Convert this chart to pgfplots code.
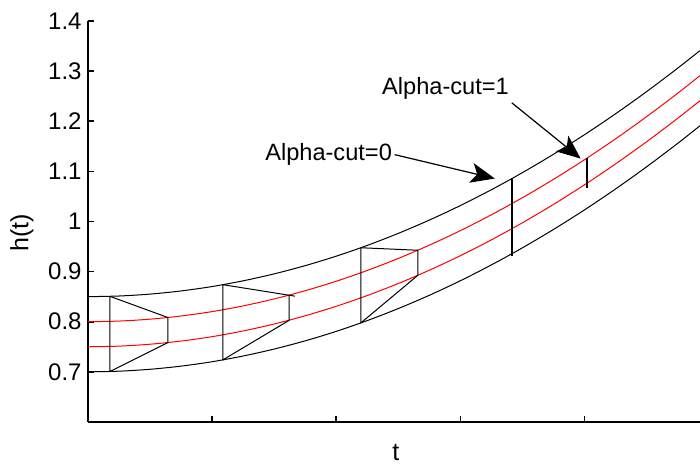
\documentclass[border=0pt]{standalone}
\usepackage{fontspec}
\setmainfont{Liberation Sans}
\usepackage{pgfplots}
\usepackage{pgfplotstable}
\pgfplotsset{compat=1.18}
\usetikzlibrary{arrows.meta,calc}

\pgfplotstableread{
t    lb     lr     ur     ub
0    0.7000 0.7500 0.8000 0.8500
0.25 0.7013 0.7513 0.8013 0.8513
0.5  0.7051 0.7551 0.8051 0.8551
0.75 0.7114 0.7614 0.8114 0.8614
1.0  0.7202 0.7702 0.8202 0.8702
1.25 0.7316 0.7816 0.8316 0.8816
1.5  0.7455 0.7955 0.8455 0.8955
1.75 0.7619 0.8119 0.8619 0.9119
2.0  0.7808 0.8308 0.8808 0.9308
2.25 0.8023 0.8523 0.9023 0.9523
2.5  0.8263 0.8763 0.9263 0.9763
2.75 0.8528 0.9028 0.9528 1.0028
3.0  0.8818 0.9318 0.9818 1.0318
3.25 0.9134 0.9634 1.0134 1.0634
3.5  0.9475 0.9975 1.0475 1.0975
3.75 0.9841 1.0341 1.0841 1.1341
4.0  1.0232 1.0732 1.1232 1.1732
4.25 1.0649 1.1149 1.1649 1.2149
4.5  1.1091 1.1591 1.2091 1.2591
4.75 1.1558 1.2058 1.2558 1.3058
4.93 1.1910 1.2410 1.2910 1.3410
}\band

\begin{document}
\begin{tikzpicture}
\begin{axis}[
  name=ax,
  scale only axis,
  width=306pt, height=200.5pt,
  xmin=0, xmax=4.93,
  ymin=0.6, ymax=1.4,
  axis lines=left,
  axis line style={-, line width=1pt},
  clip=false,
  tick align=inside,
  major tick length=3pt,
  every tick/.style={black, line width=0.8pt},
  xtick={0,1,2,3,4},
  xticklabels={},
  ytick={0.7,0.8,0.9,1,1.1,1.2,1.3,1.4},
  /pgf/number format/assume math mode=true,
  tick label style={font=\fontsize{12}{14}\selectfont},
  yticklabel style={inner sep=0pt, xshift=-3pt, anchor=east},
  xlabel={t},
  label style={font=\fontsize{12.5}{15}\selectfont},
  xlabel style={at={(axis description cs:0.503,-0.075)}, anchor=center},
]
\addplot[black, line width=0.5pt, smooth] table[x=t, y=lb] {\band};
\addplot[red, line width=0.5pt, smooth] table[x=t, y=lr] {\band};
\addplot[red, line width=0.5pt, smooth] table[x=t, y=ur] {\band};
\addplot[black, line width=0.5pt, smooth] table[x=t, y=ub] {\band};

% fuzzy number trapezoids
\addplot[black, line width=0.5pt] coordinates {(0.177,0.8506) (0.644,0.8084) (0.644,0.7584) (0.177,0.7006) (0.177,0.8506)};
\addplot[black, line width=0.5pt] coordinates {(1.667,0.851) (1.087,0.8739) (1.087,0.7239) (1.621,0.8029) (1.621,0.8528)};
\addplot[black, line width=0.5pt] coordinates {(2.198,0.9476) (2.657,0.9426) (2.657,0.8926) (2.198,0.7976) (2.198,0.9476)};

% alpha cuts
\addplot[black, line width=1pt] coordinates {(3.414,1.0854) (3.414,0.9320)};
\addplot[black, line width=1pt] coordinates {(4.02,1.1264) (4.02,1.0660)};

\draw[line width=0.6pt, -{Stealth[length=12pt, width=10pt, inset=3pt]}]
  (axis cs:2.47,1.1334) -- (axis cs:3.277,1.0857);
\draw[line width=0.6pt, -{Stealth[length=12pt, width=10pt, inset=3pt]}]
  (axis cs:3.414,1.2368) -- (axis cs:3.969,1.1254);
\node[anchor=base west, inner sep=0pt, font=\fontsize{11.8}{14}\selectfont] at (axis cs:1.425,1.1215) {Alpha-cut=0};
\node[anchor=base west, inner sep=0pt, font=\fontsize{11.8}{14}\selectfont] at (axis cs:2.367,1.2527) {Alpha-cut=1};
\node[rotate=90, anchor=center, inner sep=0pt, font=\fontsize{12.5}{15}\selectfont] at (axis description cs:-0.108,0.471) {h(t)};
\end{axis}
\pgfresetboundingbox
\path[use as bounding box] ($(ax.south west)+(-44pt,-21pt)$) rectangle ($(ax.north east)+(0pt,10.5pt)$);
\end{tikzpicture}
\end{document}
